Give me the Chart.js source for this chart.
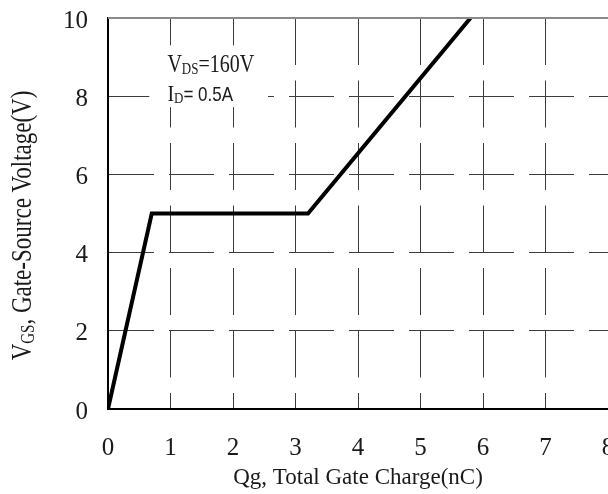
<!DOCTYPE html>
<html>
<head>
<meta charset="utf-8">
<script src="https://cdn.jsdelivr.net/npm/chart.js@4/dist/chart.umd.min.js"></script>
<style>
  html, body { margin: 0; padding: 0; background: #fff; overflow: hidden; }
</style>
</head>
<body>
<canvas id="gateChart" width="608" height="494"></canvas>
<script>
// Dados do gráfico
const xTicks = [0, 1, 2, 3, 4, 5, 6, 7, 8];
const yTicks = [0, 2, 4, 6, 8, 10];
const chargeNC = [0, 0.7, 3.2, 5.8];
const gateVolts = [0, 5, 5, 10];
const noteVds = ['V', 'DS', '=160V'];
const noteId = ['I', 'D', '= 0.5A'];
const yTitle = ['V', 'GS', ', Gate-Source Voltage(V)'];
const xTitle = 'Qg, Total Gate Charge(nC)';

const SERIF = '"Liberation Serif", "Times New Roman", serif';
const SANS = '"Liberation Sans", Arial, sans-serif';
const TEXT = '#1a1a1a';

// Desenha texto com subscrito: [normal, subscrito, normal]
function drawSubText(ctx, parts, x, y, big, small, tailFont) {
    ctx.font = big + 'px ' + SERIF;
    ctx.fillText(parts[0], x, y);
    x += ctx.measureText(parts[0]).width;
    ctx.font = small + 'px ' + SERIF;
    ctx.fillText(parts[1], x, y + 2);
    x += ctx.measureText(parts[1]).width;
    ctx.font = tailFont || (big + 'px ' + SERIF);
    ctx.fillText(parts[2], x, y);
}

function subTextWidth(ctx, parts, big, small, tailFont) {
    ctx.font = big + 'px ' + SERIF;
    let w = ctx.measureText(parts[0]).width;
    ctx.font = small + 'px ' + SERIF;
    w += ctx.measureText(parts[1]).width;
    ctx.font = tailFont || (big + 'px ' + SERIF);
    return w + ctx.measureText(parts[2]).width;
}

// Plugin para notas, moldura superior e título do eixo Y
const extras = {
    id: 'extras',
    beforeDatasetsDraw(chart) {
        const { ctx, scales: { x, y } } = chart;
        // caixa branca atrás das condições de teste
        const bx = x.getPixelForValue(0.66), by = y.getPixelForValue(9.3);
        ctx.save();
        ctx.fillStyle = '#fff';
        ctx.fillRect(bx, by, x.getPixelForValue(2.56) - bx, y.getPixelForValue(7.72) - by);
        ctx.restore();
    },
    afterDraw(chart) {
        const { ctx, chartArea, scales: { x, y } } = chart;
        ctx.save();
        // linha superior da moldura
        ctx.strokeStyle = '#8a8a8a';
        ctx.lineWidth = 2;
        ctx.beginPath();
        ctx.moveTo(chartArea.left, chartArea.top);
        ctx.lineTo(chartArea.right, chartArea.top);
        ctx.stroke();

        ctx.fillStyle = TEXT;
        ctx.textBaseline = 'alphabetic';
        ctx.textAlign = 'left';
        // notas
        const nx = x.getPixelForValue(0.95);
        ctx.save();
        ctx.translate(nx, y.getPixelForValue(8.62));
        ctx.scale(1, 1.25);
        drawSubText(ctx, noteVds, 0, 0, 20, 13);
        ctx.restore();
        ctx.save();
        ctx.translate(nx, y.getPixelForValue(7.88));
        ctx.scale(1, 1.2);
        drawSubText(ctx, noteId, 0, 0, 20, 13, '17px ' + SANS);
        ctx.restore();

        // título do eixo Y (rotacionado)
        const w = subTextWidth(ctx, yTitle, 23, 15);
        ctx.save();
        ctx.translate(31, (chartArea.top + chartArea.bottom) / 2 + 12 + w / 2);
        ctx.rotate(-Math.PI / 2);
        ctx.scale(1, 1.3);
        drawSubText(ctx, yTitle, 0, 0, 23, 15);
        ctx.restore();
        ctx.restore();
    }
};

const ctx = document.getElementById('gateChart').getContext('2d');
new Chart(ctx, {
    type: 'scatter',
    data: {
        datasets: [{
            data: chargeNC.map((q, i) => ({ x: q, y: gateVolts[i] })),
            showLine: true,
            borderColor: '#000',
            borderWidth: 4,
            borderJoinStyle: 'miter',
            pointRadius: 0,
            tension: 0
        }]
    },
    options: {
        responsive: false,
        animation: false,
        layout: { padding: { left: 40, top: 18, right: 0, bottom: 0 } },
        plugins: {
            legend: { display: false },
            tooltip: { enabled: false }
        },
        scales: {
            x: {
                type: 'linear',
                min: xTicks[0],
                max: xTicks[xTicks.length - 1],
                afterBuildTicks: s => { s.ticks = xTicks.map(v => ({ value: v })); },
                afterFit: s => { s.paddingRight = 0; s.paddingLeft = 0; s.height = 85; },
                ticks: {
                    color: TEXT,
                    padding: 24,
                    font: { family: SERIF, size: 25 }
                },
                grid: { color: '#3c3c3c', lineWidth: 1, drawTicks: false },
                border: { color: '#000', width: 2, dash: [47, 15.5], dashOffset: 0 },
                title: {
                    display: true,
                    text: xTitle,
                    color: TEXT,
                    font: { family: SERIF, size: 23 },
                    padding: { top: 4, bottom: 2 }
                }
            },
            y: {
                type: 'linear',
                min: yTicks[0],
                max: yTicks[yTicks.length - 1],
                afterBuildTicks: s => { s.ticks = yTicks.map(v => ({ value: v })); },
                afterFit: s => { s.width = 68; s.paddingTop = 0; s.paddingBottom = 0; },
                ticks: {
                    color: TEXT,
                    padding: 20,
                    labelOffset: 3,
                    font: { family: SERIF, size: 25 }
                },
                grid: { color: '#3c3c3c', lineWidth: 1, drawTicks: false },
                border: { color: '#000', width: 2, dash: [45, 15], dashOffset: 0 }
            }
        }
    },
    plugins: [extras]
});
</script>
</body>
</html>
